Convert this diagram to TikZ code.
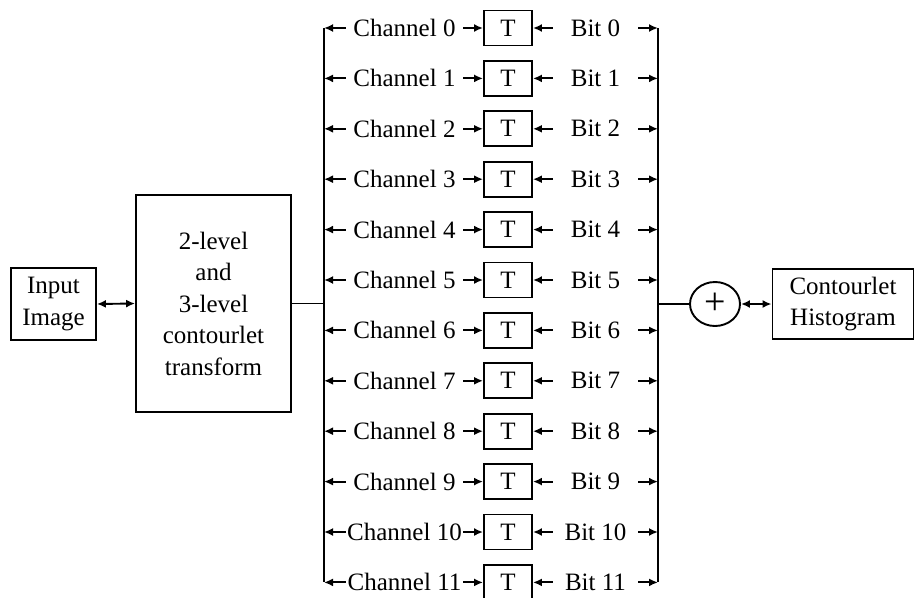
\documentclass[tikz,border=0pt]{standalone}
\usepackage{fontspec}
\setmainfont{Liberation Serif}
\usetikzlibrary{arrows.meta,shapes.geometric}
\begin{document}
\begin{tikzpicture}[x=1pt,y=-1pt,
  every node/.style={font=\fontsize{25}{31.5}\selectfont},
  box/.style={draw, line width=1.9pt, inner sep=0pt, align=center},
  lbl/.style={inner sep=0pt, minimum height=30pt},
  wire/.style={line width=1.9pt},
  arr/.style={wire, -{Latex[length=9pt,width=8pt]}},
  darr/.style={wire, {Latex[length=9pt,width=8pt]}-{Latex[length=9pt,width=8pt]}}]
\useasboundingbox (0,0) rectangle (915,597);

% input and transform blocks
\node[box, minimum width=85pt, minimum height=72pt] (in) at (53.5,304) {Input\\Image};
\node[box, minimum width=155pt, minimum height=217pt] (ct) at (213.5,303.5)
  {2-level\\and\\3-level\\contourlet\\transform};

% one row per channel: channel label, threshold block, bit label
\foreach \i in {0,...,11}{
  \pgfmathsetmacro\yy{28+50.4*\i}
  \coordinate (L\i) at (324,\yy);
  \coordinate (R\i) at (658,\yy);
  \node[box, minimum width=48pt, minimum height=35pt] (T\i) at (508,\yy) {T};
  \node[lbl, minimum width=117pt] (C\i) at (404.5,\yy) {Channel \i};
  \node[lbl, minimum width=85pt] (B\i) at (595.5,\yy) {Bit \i};
  \draw[arr] (C\i.west) -- (L\i);
  \draw[arr] (C\i.east) -- (T\i.west);
  \draw[arr] (B\i.west) -- (T\i.east);
  \draw[arr] (B\i.east) -- (R\i);
}

% buses
\draw[wire] (L0) -- (L11);
\draw[wire] (R0) -- (R11);
\draw[wire] (ct.east) -- (ct.east -| L0);

% summation and histogram output
\node[draw, ellipse, line width=1.9pt, minimum width=50pt, minimum height=44pt, inner sep=0pt] (sum) at (715,304) {};
\node[font=\fontsize{38}{38}\selectfont, inner sep=0pt] (plus) at (sum.center) {+};
\node[box, minimum width=141pt, minimum height=70pt] (hist) at (843,304) {Contourlet\\Histogram};
\draw[wire] (sum.west -| R0) -- (sum.west);

\draw[darr] (in.east) -- (ct.west);
\draw[darr] (sum.east) -- (hist.west);
\end{tikzpicture}
\end{document}
